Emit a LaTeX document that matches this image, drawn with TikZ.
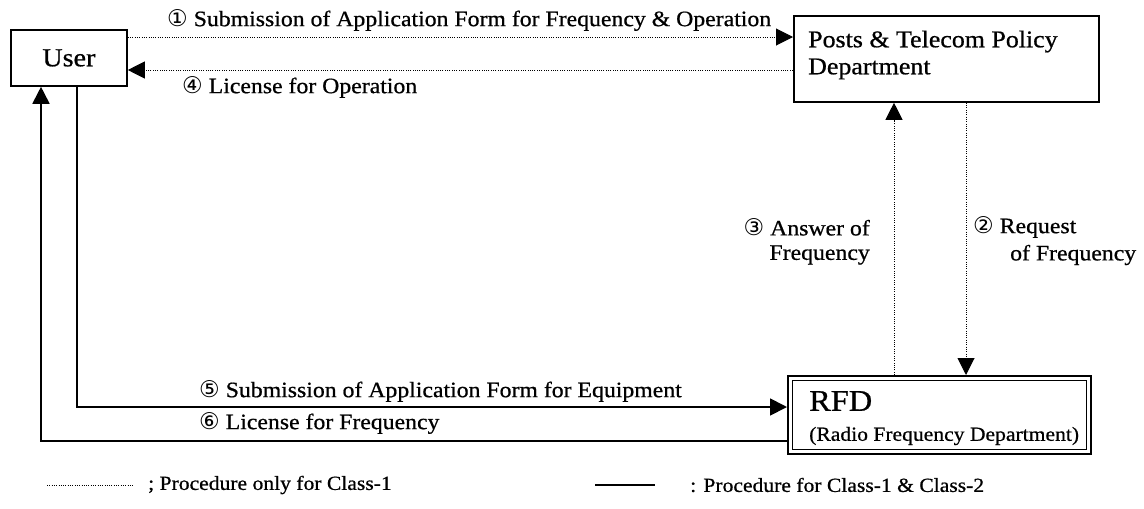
\documentclass[tikz,border=0pt]{standalone}
\usepackage{fontspec}
\setmainfont{Liberation Serif}[FakeStretch=1.08,FakeBold=0.7]
\newfontfamily\circfont{DejaVu Sans}
\usetikzlibrary{arrows.meta,calc}
\newcommand\cn[1]{{\circfont\fontsize{23}{24}\selectfont #1}}
\tikzset{
  box/.style={draw, line width=1.8pt, inner sep=0pt, anchor=north west},
  dotline/.style={line width=1pt, dash pattern=on 1pt off 1.3pt},
  solline/.style={line width=1.8pt},
  tipend/.style={-{Triangle[length=17pt,width=17pt]}},
  lbl/.style={font=\fontsize{22}{26}\selectfont, inner sep=0pt},
  lgd/.style={font=\fontsize{20}{24}\selectfont, inner sep=0pt, anchor=west},
}
\begin{document}
\begin{tikzpicture}[x=1pt,y=-1pt]
\useasboundingbox (0,0) rectangle (1144,509);
% boxes
\node[box, minimum width=116pt, minimum height=56pt] (user) at (10,29) {};
\node[font=\fontsize{26}{30}\selectfont, inner sep=0pt] (usertxt) at (user.center) {User};
\node[box, minimum width=305pt, minimum height=86pt] (posts) at (793,15) {};
\node[font=\fontsize{24}{27}\selectfont, inner sep=0pt, anchor=west, align=left] (poststxt) at (808,55) {Posts \& Telecom Policy\\Department};
\node[box, minimum width=303pt, minimum height=78pt] (rfd) at (787,375) {};
\draw[line width=1pt] ($(rfd.north west)+(5.5,5.5)$) rectangle ($(rfd.south east)+(-5.5,-5.5)$);
\node[font=\fontsize{30}{34}\selectfont, inner sep=0pt, anchor=west] (rfdtxt) at (809,401) {RFD};
\node[font=\fontsize{20}{22}\selectfont, inner sep=0pt, anchor=west] (rfdsub) at (809,436) {(Radio Frequency Department)};
% level coordinates
\coordinate (y1) at (0,37);
\coordinate (y4) at (0,70);
\coordinate (x3) at (894,0);
\coordinate (x2) at (966,0);
\coordinate (x5) at (77,0);
\coordinate (y5) at (0,407);
\coordinate (x6) at (41,0);
\coordinate (y6) at (0,441);
% connectors
\draw[dotline,tipend] (user.east |- y1) -- (posts.west |- y1);
\draw[dotline,tipend] (posts.west |- y4) -- (user.east |- y4);
\draw[dotline,tipend] (rfd.north -| x3) -- (posts.south -| x3);
\draw[dotline,tipend] (posts.south -| x2) -- (rfd.north -| x2);
\draw[solline,tipend] (user.south -| x5) |- (rfd.west |- y5);
\draw[solline,tipend] (rfd.west |- y6) -| (user.south -| x6);
% labels
\node[lbl, anchor=west] (l1) at (167,20) {\cn{①} Submission of Application Form for Frequency \& Operation};
\node[lbl, anchor=west] (l4) at (182,87) {\cn{④} License for Operation};
\node[lbl, anchor=east] (l3a) at (870,227) {\cn{③} Answer of};
\node[lbl, anchor=east] (l3b) at (870,255) {Frequency};
\node[lbl, anchor=west] (l2a) at (973,227) {\cn{②} Request};
\node[lbl, anchor=west] (l2b) at (1010,255) {of Frequency};
\node[lbl, anchor=west] (l5) at (199,391) {\cn{⑤} Submission of Application Form for Equipment};
\node[lbl, anchor=west] (l6) at (199,423) {\cn{⑥} License for Frequency};
% legend
\coordinate (lda) at (47,485);
\coordinate (ldb) at (133,485);
\draw[dotline] (lda) -- (ldb);
\node[lgd] (lgt1) at (148,485) {; Procedure only for Class-1};
\coordinate (lsa) at (595,485);
\coordinate (lsb) at (655,485);
\draw[solline] (lsa) -- (lsb);
\node[lgd] (lgt2) at (690,485) {: Procedure for Class-1 \& Class-2};
\end{tikzpicture}
\end{document}
